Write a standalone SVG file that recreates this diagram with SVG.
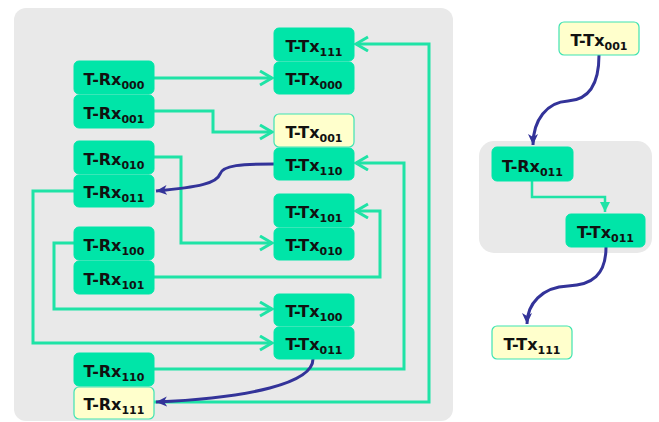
<svg xmlns="http://www.w3.org/2000/svg" width="659" height="422" viewBox="0 0 659 422">
<defs>
<style>
.bg{fill:#e9e9e9}
.n rect{fill:#00e5a8;stroke:#00e5a8;stroke-width:1}
.n.y rect{fill:#ffffcc;stroke:#3fe3b2;stroke-width:1.2}
.n text{font-family:"DejaVu Sans",Verdana,sans-serif;font-weight:bold;font-size:16px;fill:#111;text-anchor:middle}
.n tspan.s{font-size:11px}
.g{fill:none;stroke:#1fe3a6;stroke-width:3;stroke-linejoin:miter}
.g2{fill:none;stroke:#1fe3a6;stroke-width:2.5}
.b{fill:none;stroke:#333399;stroke-width:3}
</style>
<marker id="chev" markerUnits="userSpaceOnUse" markerWidth="16" markerHeight="18" refX="13" refY="8" orient="auto">
<path d="M1,1 L13,8 L1,15" fill="none" stroke="#1fe3a6" stroke-width="3"/>
</marker>
<marker id="barr" markerUnits="userSpaceOnUse" markerWidth="14" markerHeight="12" refX="11" refY="5" orient="auto">
<path d="M0,0 L11,5 L0,10 L3,5 z" fill="#333399"/>
</marker>
<marker id="garr" markerUnits="userSpaceOnUse" markerWidth="12" markerHeight="12" refX="10" refY="5" orient="auto">
<path d="M0,0 L10,5 L0,10 z" fill="#1fe3a6"/>
</marker>
</defs>
<rect class="bg" x="14" y="8" width="439" height="413" rx="12"/>
<rect class="bg" x="479" y="141" width="173" height="112" rx="15"/>
<g id="connectors">
<path class="g" d="M154,78 H272" marker-end="url(#chev)"/>
<path class="g" d="M154,111 H213 V132 H272" marker-end="url(#chev)"/>
<path class="g" d="M154,157 H181 V243 H272" marker-end="url(#chev)"/>
<path class="g" d="M74,191 H33 V343 H272" marker-end="url(#chev)"/>
<path class="g" d="M74,243 H54 V309 H272" marker-end="url(#chev)"/>
<path class="g" d="M154,277 H380 V211 H356" marker-end="url(#chev)"/>
<path class="g" d="M154,369 H404 V163 H356" marker-end="url(#chev)"/>
<path class="g" d="M154,402 H429 V44 H356" marker-end="url(#chev)"/>
<path class="b" d="M274,164 C242,164 223,165 220,174 C217,183 200,187 156,191" marker-end="url(#barr)"/>
<path class="b" d="M313,359 C313,383 250,398 156,402" marker-end="url(#barr)"/>
<path class="g2" d="M532,181 V197 H605 V212" marker-end="url(#garr)"/>
<path class="b" d="M599,55 C599,88 586,100 568,101 C547,102 533,120 533,145" marker-end="url(#barr)"/>
<path class="b" d="M606,247 C606,275 592,285 568,286 C542,287 527,304 527,324" marker-end="url(#barr)"/>
</g>
<g id="n-tx111" class="n"><rect x="274" y="28" width="80" height="33" rx="5"/><text x="314" y="52">T-Tx<tspan class="s" dy="4">111</tspan></text></g>
<g id="n-rx000" class="n"><rect x="74" y="61" width="80" height="33" rx="5"/><text x="114" y="85">T-Rx<tspan class="s" dy="4">000</tspan></text></g>
<g id="n-tx000" class="n"><rect x="274" y="62" width="80" height="32" rx="5"/><text x="314" y="85">T-Tx<tspan class="s" dy="4">000</tspan></text></g>
<g id="n-rx001" class="n"><rect x="74" y="95" width="80" height="33" rx="5"/><text x="114" y="119">T-Rx<tspan class="s" dy="4">001</tspan></text></g>
<g id="n-tx001" class="n y"><rect x="274" y="114" width="80" height="33" rx="5"/><text x="314" y="138">T-Tx<tspan class="s" dy="4">001</tspan></text></g>
<g id="n-rx010" class="n"><rect x="74" y="141" width="80" height="33" rx="5"/><text x="114" y="165">T-Rx<tspan class="s" dy="4">010</tspan></text></g>
<g id="n-tx110" class="n"><rect x="274" y="148" width="80" height="32" rx="5"/><text x="314" y="171">T-Tx<tspan class="s" dy="4">110</tspan></text></g>
<g id="n-rx011" class="n"><rect x="74" y="175" width="80" height="32" rx="5"/><text x="114" y="198">T-Rx<tspan class="s" dy="4">011</tspan></text></g>
<g id="n-tx101" class="n"><rect x="274" y="194" width="80" height="33" rx="5"/><text x="314" y="218">T-Tx<tspan class="s" dy="4">101</tspan></text></g>
<g id="n-tx010" class="n"><rect x="274" y="228" width="80" height="32" rx="5"/><text x="314" y="251">T-Tx<tspan class="s" dy="4">010</tspan></text></g>
<g id="n-rx100" class="n"><rect x="74" y="227" width="80" height="33" rx="5"/><text x="114" y="251">T-Rx<tspan class="s" dy="4">100</tspan></text></g>
<g id="n-rx101" class="n"><rect x="74" y="261" width="80" height="33" rx="5"/><text x="114" y="285">T-Rx<tspan class="s" dy="4">101</tspan></text></g>
<g id="n-tx100" class="n"><rect x="274" y="294" width="80" height="32" rx="5"/><text x="314" y="317">T-Tx<tspan class="s" dy="4">100</tspan></text></g>
<g id="n-tx011" class="n"><rect x="274" y="327" width="80" height="32" rx="5"/><text x="314" y="350">T-Tx<tspan class="s" dy="4">011</tspan></text></g>
<g id="n-rx110" class="n"><rect x="74" y="353" width="80" height="33" rx="5"/><text x="114" y="377">T-Rx<tspan class="s" dy="4">110</tspan></text></g>
<g id="n-rx111" class="n y"><rect x="74" y="387" width="80" height="32" rx="5"/><text x="114" y="410">T-Rx<tspan class="s" dy="4">111</tspan></text></g>
<g id="r-tx001" class="n y"><rect x="559" y="22" width="80" height="33" rx="5"/><text x="599" y="46">T-Tx<tspan class="s" dy="4">001</tspan></text></g>
<g id="r-rx011" class="n"><rect x="492" y="147" width="81" height="34" rx="5"/><text x="532.5" y="172">T-Rx<tspan class="s" dy="4">011</tspan></text></g>
<g id="r-tx011" class="n"><rect x="566" y="214" width="79" height="33" rx="5"/><text x="605.5" y="238">T-Tx<tspan class="s" dy="4">011</tspan></text></g>
<g id="r-tx111" class="n y"><rect x="492" y="326" width="80" height="33" rx="5"/><text x="532" y="350">T-Tx<tspan class="s" dy="4">111</tspan></text></g>
</svg>
